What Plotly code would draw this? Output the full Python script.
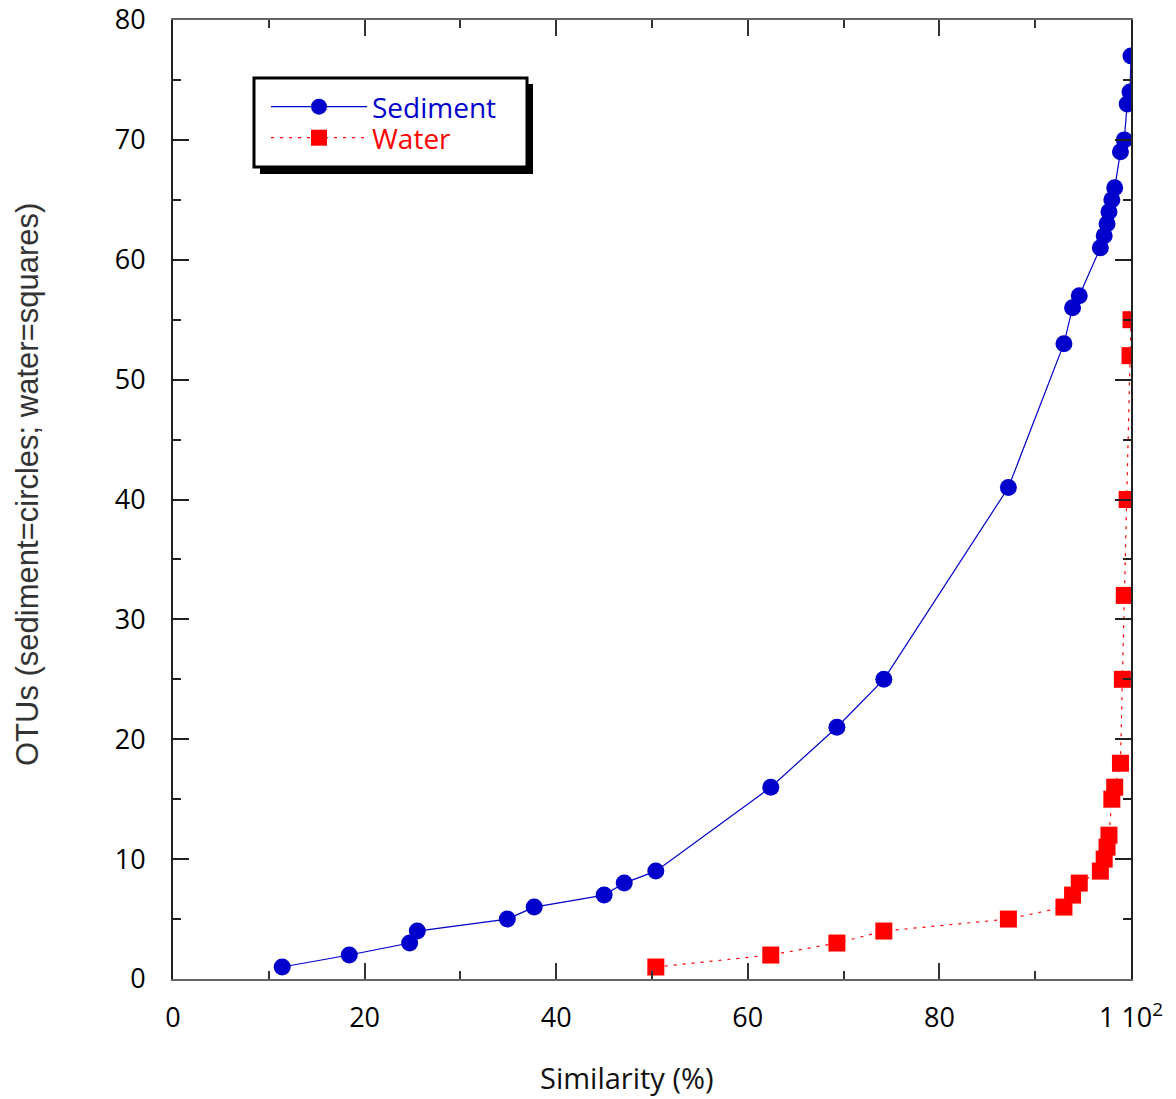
import plotly.graph_objects as go

# Sediment series
sed_x = [11.4, 18.4, 24.7, 25.5, 34.9, 37.7, 45.0, 47.1, 50.4, 62.4, 69.3, 74.2, 87.2,
         93.0, 93.9, 94.6, 96.8, 97.2, 97.5, 97.7, 98.0, 98.3, 98.9, 99.3, 99.6, 99.9, 100.0]
sed_y = [1, 2, 3, 4, 5, 6, 7, 8, 9, 16, 21, 25, 41,
         53, 56, 57, 61, 62, 63, 64, 65, 66, 69, 70, 73, 74, 77]

# Water series
wat_x = [50.4, 62.4, 69.3, 74.2, 87.2, 93.0, 93.9, 94.6, 96.8, 97.2, 97.5, 97.7,
         98.0, 98.3, 98.9, 99.1, 99.3, 99.6, 99.9, 100.0]
wat_y = [1, 2, 3, 4, 5, 6, 7, 8, 9, 10, 11, 12,
         15, 16, 18, 25, 32, 40, 52, 55]

x_tickvals = [0, 20, 40, 60, 80, 100]
x_ticktext = ["0", "20", "40", "60", "80", "1 10<sup>2</sup>"]
y_tickvals = [0, 10, 20, 30, 40, 50, 60, 70, 80]

BLUE = "#0000CC"
RED = "#FF0000"

# body margin removed via post_script, so figure pixels == page pixels
W, H = 1176, 1099
PL, PR, PT, PB = 173, 1131, 20, 979          # plot area in page pixels
L, T = PL, PT
R, B = W - PR, H - PB
PW, PH = PR - PL, PB - PT

def px(x):
    return (x - PL) / PW

def py(y):
    return (PB - y) / PH

fig = go.Figure()
fig.add_trace(go.Scatter(
    x=sed_x, y=sed_y, mode="lines+markers",
    name="<span style='color:%s'>Sediment</span>" % BLUE,
    line=dict(color=BLUE, width=1.2),
    marker=dict(symbol="circle", size=17, color=BLUE),
    legend="legend",
))
fig.add_trace(go.Scatter(
    x=wat_x, y=wat_y, mode="lines+markers",
    name="<span style='color:%s'>Water</span>" % RED,
    line=dict(color=RED, width=1.2, dash="3px,6px"),
    marker=dict(symbol="square", size=17, color=RED),
    legend="legend2",
))

tickfont = dict(family="Open Sans, sans-serif", size=27, color="#000000")

fig.update_xaxes(
    range=[0, 100], tickmode="array", tickvals=x_tickvals, ticktext=x_ticktext,
    showline=True, linecolor="#666666", linewidth=2, mirror="ticks",
    ticks="inside", ticklen=16, tickwidth=1.5, tickcolor="#333333",
    showgrid=False, zeroline=False, tickfont=tickfont,
    ticklabelstandoff=14, ticklabeloverflow="allow",
    minor=dict(dtick=10, ticklen=8, tickwidth=1.5, tickcolor="#333333", ticks="inside"),
)
fig.update_yaxes(
    range=[0, 80], tickmode="array", tickvals=y_tickvals,
    showline=True, linecolor="#222222", linewidth=2, mirror="ticks",
    ticks="inside", ticklen=16, tickwidth=1.5, tickcolor="#222222",
    showgrid=False, zeroline=False, tickfont=tickfont,
    ticklabelstandoff=20, ticklabeloverflow="allow",
    minor=dict(dtick=5, ticklen=8, tickwidth=1.5, tickcolor="#222222", ticks="inside"),
)

# legend frame with shadow
fig.add_shape(type="rect", xref="paper", yref="paper",
              x0=px(260), x1=px(533), y0=py(174), y1=py(84),
              fillcolor="#000000", line=dict(width=0), layer="above")
fig.add_shape(type="rect", xref="paper", yref="paper",
              x0=px(254), x1=px(527), y0=py(167), y1=py(78),
              fillcolor="#FFFFFF", line=dict(color="#000000", width=3), layer="above")

fig.add_annotation(text="Similarity (%)", xref="paper", yref="paper",
                   x=px(626), y=py(1077), xanchor="center", yanchor="middle", showarrow=False,
                   font=dict(family="Open Sans, sans-serif", size=29, color="#111111"))
fig.add_annotation(text="OTUs (sediment=circles; water=squares)", xref="paper", yref="paper",
                   x=px(28), y=py(485), xanchor="center", yanchor="middle",
                   showarrow=False, textangle=-90,
                   font=dict(family="Liberation Sans Narrow, Liberation Sans, Arial", size=31, color="#333333"))

legend_common = dict(
    xanchor="left", yanchor="middle",
    bgcolor="rgba(0,0,0,0)", borderwidth=0,
    font=dict(family="Open Sans, sans-serif", size=28),
    itemwidth=96,
)

fig.update_layout(
    width=W, height=H,
    margin=dict(l=L, r=R, t=T, b=B, autoexpand=False),
    plot_bgcolor="#FFFFFF", paper_bgcolor="#FFFFFF",
    showlegend=True,
    legend=dict(x=px(266), y=py(107), **legend_common),
    legend2=dict(x=px(266), y=py(138), **legend_common),
)

fig.write_html("out.html",
               config={"displayModeBar": False},
               post_script="document.body.style.margin='0';document.body.style.overflow='hidden';")
